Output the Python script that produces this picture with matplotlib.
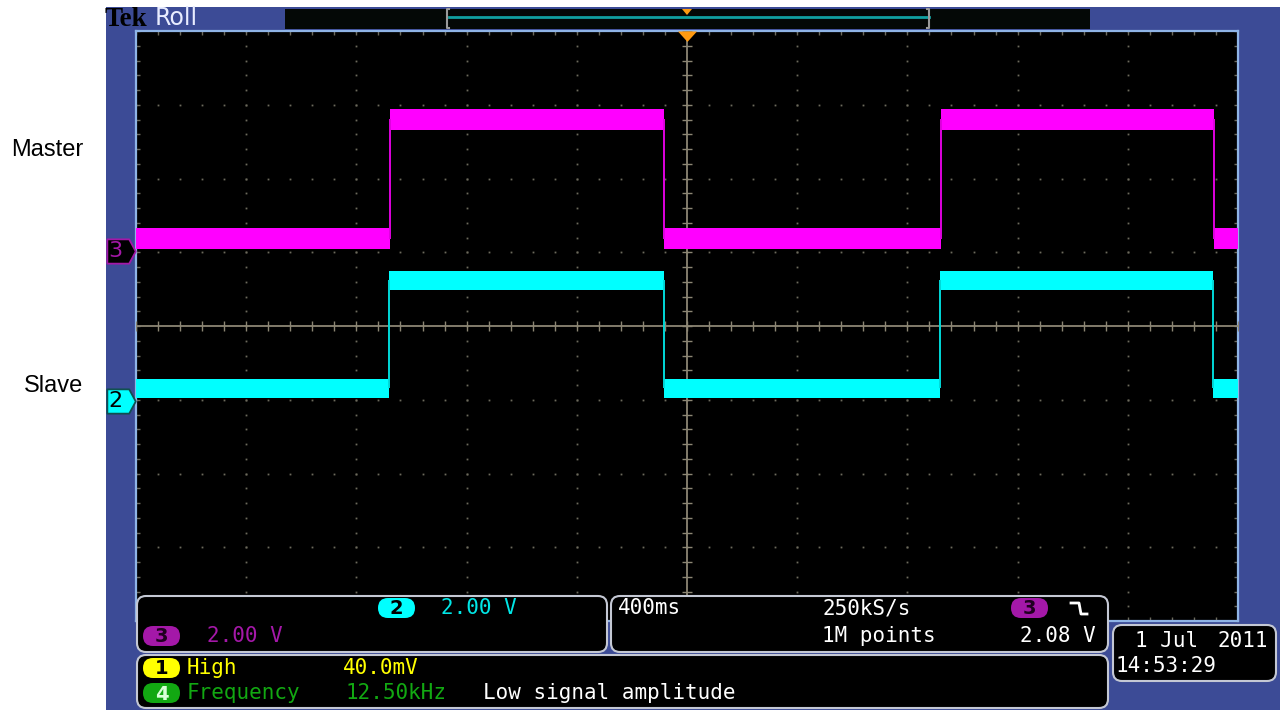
import numpy as np
import matplotlib
matplotlib.use('Agg')
import matplotlib.pyplot as plt
from matplotlib.patches import Rectangle, FancyBboxPatch
from matplotlib.path import Path
from matplotlib.transforms import blended_transform_factory

# scope setup: 400 ms/div, 10 x 8 divisions, t=0 at screen centre
time_per_div = 0.4
n_xdiv = 10
n_ydiv = 8
volts_per_div = 2.0

# edge times (s): rise, fall, rise, fall
ch3_edges = [-1.078, -0.084, 0.922, 1.913]
ch2_edges = [-1.080, -0.085, 0.920, 1.911]

# (low, high) levels in volts and noise band width (peak-peak, volts)
ch3_levels = (0.32, 3.57)
ch2_levels = (0.35, 3.28)
ch3_noise = 0.57
ch2_noise = 0.52

# ground marker positions in divisions
ch3_offset = 1.02
ch2_offset = -1.02

BLUE = '#3c4b96'
FRAME = '#8fb4e6'
DOT = '#6c6a5c'
CROSS = '#8c8674'
MAGENTA = '#ff00ff'
CYAN = '#00ffff'
PURPLE = '#a418a8'
YELLOW = '#ffff00'
GREEN = '#12a812'
PANEL_EDGE = '#c4c8d4'
MONO = 'DejaVu Sans Mono'


def step_trace(edges, levels, t0, t1):
    ts = [t0]
    vs = [levels[0]]
    state = 0
    for e in edges:
        ts += [e, e]
        vs += [levels[state], levels[1 - state]]
        state = 1 - state
    ts.append(t1)
    vs.append(levels[state])
    return np.array(ts), np.array(vs)


def draw_channel(ax, edges, levels, noise, offset, color, edge_color):
    t0 = -n_xdiv / 2 * time_per_div
    t1 = n_xdiv / 2 * time_per_div
    ts, vs = step_trace(edges, levels, t0, t1)
    y = offset + vs / volts_per_div
    h = noise / 2 / volts_per_div
    ax.fill_between(ts, y - h, y + h, color=color, lw=0, zorder=5)
    lo = offset + levels[0] / volts_per_div
    hi = offset + levels[1] / volts_per_div
    ax.vlines(edges, lo, hi, color=edge_color, lw=1.4, zorder=5)


def panel(ax, x, y, w, h):
    ax.add_patch(FancyBboxPatch((x, y), w, h, boxstyle='round,pad=0,rounding_size=9',
                                fc='black', ec=PANEL_EDGE, lw=1.5, zorder=2))


def pill(ax, x, y, num, fc, tc):
    ax.add_patch(FancyBboxPatch((x, y - 10), 37, 20, boxstyle='round,pad=0,rounding_size=10',
                                fc=fc, ec='none', zorder=3))
    ax.text(x + 18.5, y + 1, num, color=tc, fontsize=14, fontweight='bold',
            ha='center', va='center', zorder=4)


def readout(ax, x, y, s, color='white', ha='left', size=15):
    ax.text(x, y, s, color=color, family=MONO, fontsize=size, ha=ha, va='center')


fig = plt.figure(figsize=(12.8, 7.1), dpi=100, facecolor='white')

# background: blue scope frame
ax_bg = fig.add_axes([0, 0, 1, 1], zorder=0)
ax_bg.set_xlim(0, 1280)
ax_bg.set_ylim(710, 0)
ax_bg.axis('off')
ax_bg.add_patch(Rectangle((106, 7), 1174, 703, fc=BLUE, ec='none'))

# graticule
ax = fig.add_axes([136 / 1280, 89 / 710, 1102 / 1280, 590 / 710], zorder=1)
ax.set_facecolor('black')
xmax = n_xdiv / 2 * time_per_div
ax.set_xlim(-xmax, xmax)
ax.set_ylim(-n_ydiv / 2, n_ydiv / 2)
for sp in ax.spines.values():
    sp.set_color(FRAME)
    sp.set_linewidth(1.6)

minor_x = np.arange(-xmax, xmax + 1e-9, time_per_div / 5)
minor_y = np.arange(-n_ydiv / 2, n_ydiv / 2 + 1e-9, 0.2)
ax.set_xticks(minor_x)
ax.set_yticks(minor_y)
ax.tick_params(direction='in', length=3, width=1, color=DOT, top=True, right=True,
               labelbottom=False, labelleft=False)

for k in range(-4, 5):
    if k == 0:
        continue
    ax.plot(np.full_like(minor_y, k * time_per_div), minor_y, ls='none', marker='s',
            ms=1.3, mew=0, color=DOT, zorder=2)
for k in range(-3, 4):
    if k == 0:
        continue
    ax.plot(minor_x, np.full_like(minor_x, k), ls='none', marker='s',
            ms=1.3, mew=0, color=DOT, zorder=2)

ax.axhline(0, color=CROSS, lw=1.3, zorder=3)
ax.axvline(0, color=CROSS, lw=1.3, zorder=3)
ax.plot(minor_x, np.zeros_like(minor_x), ls='none', marker='|', ms=7, mew=1,
        color=CROSS, zorder=3)
ax.plot(np.zeros_like(minor_y), minor_y, ls='none', marker='_', ms=7, mew=1,
        color=CROSS, zorder=3)

draw_channel(ax, ch3_edges, ch3_levels, ch3_noise, ch3_offset, MAGENTA, '#e000e0')
draw_channel(ax, ch2_edges, ch2_levels, ch2_noise, ch2_offset, CYAN, '#00d8d8')

# trigger position marker
tri = Path([(-1, 0), (1, 0), (0, -1.1), (-1, 0)],
           [Path.MOVETO, Path.LINETO, Path.LINETO, Path.CLOSEPOLY])
ax.plot([0], [n_ydiv / 2], marker=tri, ms=15, color='#ff9a10', mew=0,
        clip_on=False, zorder=8)

# channel ground markers
blend = blended_transform_factory(ax.transAxes, ax.transData)
arrow = Path([(-1.2, 0.5), (-0.3, 0.5), (-0.03, 0), (-0.3, -0.5), (-1.2, -0.5), (-1.2, 0.5)],
             [Path.MOVETO] + [Path.LINETO] * 4 + [Path.CLOSEPOLY])
ax.plot([0.0], [ch3_offset], transform=blend, marker=arrow, ms=42, mfc='black',
        mec=PURPLE, mew=1.3, clip_on=False, zorder=8)
ax.text(-0.0185, ch3_offset, '3', transform=blend, color=PURPLE, fontsize=16,
        ha='center', va='center', clip_on=False, zorder=9)
ax.plot([0.0], [ch2_offset], transform=blend, marker=arrow, ms=42, mfc=CYAN,
        mec='#105050', mew=1.3, clip_on=False, zorder=8)
ax.text(-0.0185, ch2_offset, '2', transform=blend, color='black', fontsize=16,
        ha='center', va='center', clip_on=False, zorder=9)

# overlay: top bar, readouts, labels
ov = fig.add_axes([0, 0, 1, 1], zorder=3)
ov.set_xlim(0, 1280)
ov.set_ylim(710, 0)
ov.axis('off')
ov.patch.set_alpha(0)

ov.text(105, 20, 'Tek', family='Liberation Serif', fontweight='bold', fontsize=19.5,
        color='black', ha='left', va='center')
ov.text(155, 18, 'Roll', family='DejaVu Sans', fontsize=17, color='#e8ecff',
        ha='left', va='center')
ov.add_patch(Rectangle((285, 9), 805, 20, fc='#040806', ec='none'))
ov.plot([449, 929], [17, 17], color='#10a0a0', lw=2)
ov.plot([449, 447, 447, 449], [9, 9, 28, 28], color='#9a9a9a', lw=1.5)
ov.plot([927, 929, 929, 927], [9, 9, 28, 28], color='#9a9a9a', lw=1.5)
ov.fill([682, 692, 687], [9, 9, 15], color='#ff9a10', lw=0)

# channel scale readout
panel(ov, 137, 596, 470, 56)
pill(ov, 378, 608, '2', CYAN, 'black')
readout(ov, 441, 608, '2.00 V', '#00e6e6')
pill(ov, 143, 636, '3', PURPLE, '#200020')
readout(ov, 207, 636, '2.00 V', PURPLE)

# timebase / trigger readout
panel(ov, 611, 596, 497, 56)
readout(ov, 618, 608, '400ms')
readout(ov, 823, 608, '250kS/s')
readout(ov, 822, 636, '1M points')
pill(ov, 1011, 608, '3', PURPLE, '#200020')
ov.plot([1071, 1079, 1081, 1087], [603, 603, 614, 614], color='white', lw=2)
readout(ov, 1096, 636, '2.08 V', ha='right')

# measurements
panel(ov, 137, 655, 971, 53)
pill(ov, 143, 668, '1', YELLOW, 'black')
readout(ov, 187, 668, 'High', YELLOW)
readout(ov, 343, 668, '40.0mV', YELLOW)
pill(ov, 143, 693, '4', GREEN, '#d8ffd8')
readout(ov, 187, 693, 'Frequency', GREEN)
readout(ov, 345, 693, '12.50kHz', GREEN)
readout(ov, 483, 693, 'Low signal amplitude')

# date / time
panel(ov, 1113, 625, 163, 56)
readout(ov, 1135, 641, '1 Jul')
readout(ov, 1268, 641, '2011', ha='right')
readout(ov, 1115, 666, '14:53:29')

# channel names on the white margin
ov.text(83, 150, 'Master', family='Liberation Sans', fontsize=17, color='black',
        ha='right', va='center')
ov.text(83, 386, 'Slave', family='Liberation Sans', fontsize=17, color='black',
        ha='right', va='center')

fig.savefig('out.png', dpi=100, facecolor='white')
